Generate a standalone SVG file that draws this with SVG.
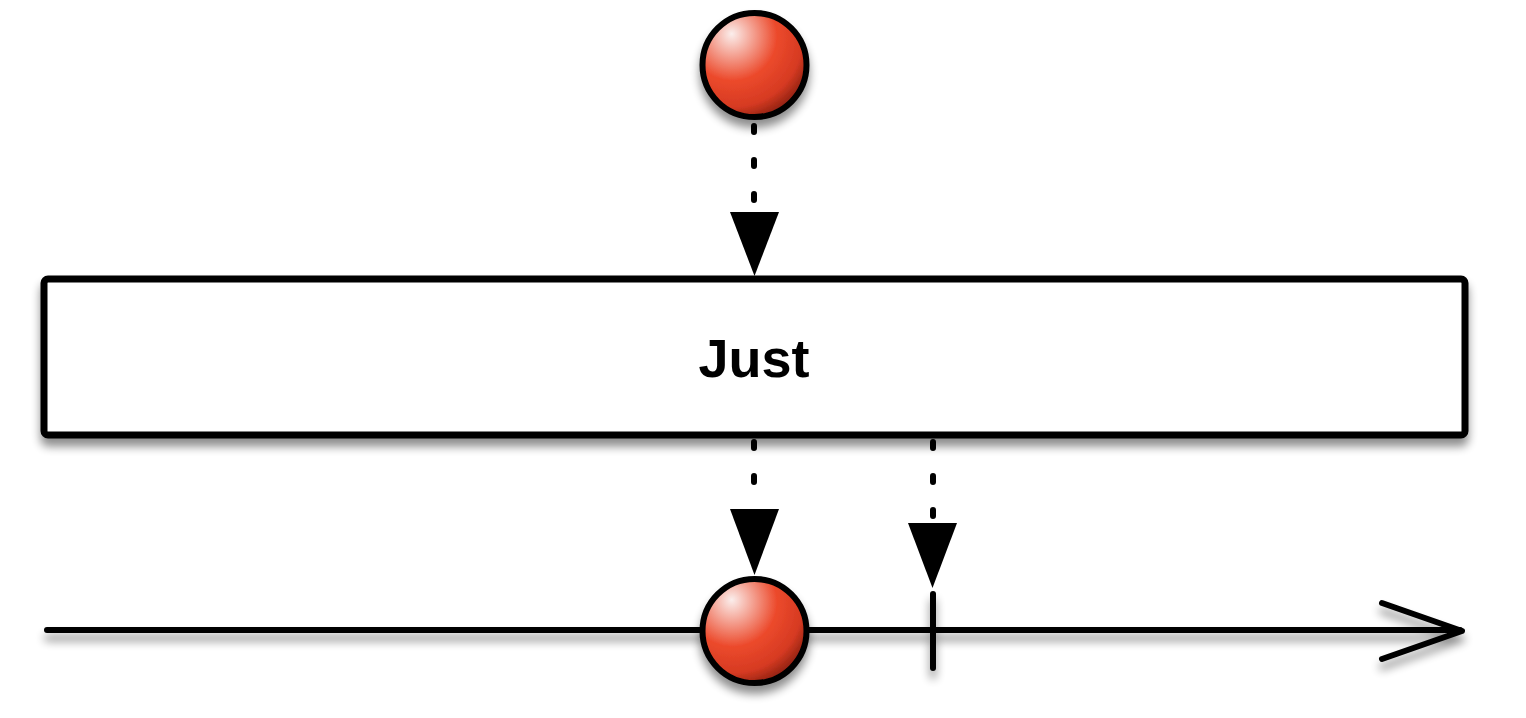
<svg xmlns="http://www.w3.org/2000/svg" width="1526" height="718" viewBox="0 0 1526 718">
<defs>
<style>
.ln{fill:none;stroke:#000;stroke-width:6;stroke-linecap:round;stroke-linejoin:round}
.dash{fill:none;stroke:#000;stroke-width:6;stroke-linecap:round;stroke-dasharray:6 28}
.ball{fill:url(#rg);stroke:#000;stroke-width:6}
.txt{font-family:"Liberation Sans",Arial,sans-serif;font-weight:bold;font-size:54px;fill:#000}
</style>
<radialGradient id="rg" cx="0.3" cy="0.25" r="0.85" fx="0.28" fy="0.2">
<stop offset="0" stop-color="#fbeeec"/>
<stop offset="0.5" stop-color="#ec4a2c"/>
<stop offset="0.78" stop-color="#d63a22"/>
<stop offset="1" stop-color="#7a1a0c"/>
</radialGradient>
<filter id="sh" x="-20%" y="-30%" width="140%" height="170%">
<feGaussianBlur in="SourceAlpha" stdDeviation="5"/>
<feOffset dx="0" dy="8" result="b"/>
<feComponentTransfer><feFuncA type="linear" slope="0.45"/></feComponentTransfer>
<feMerge><feMergeNode/><feMergeNode in="SourceGraphic"/></feMerge>
</filter>
</defs>
<rect width="1526" height="718" fill="#fff"/>
<g id="timeline" filter="url(#sh)">
<line class="ln" x1="47" y1="630" x2="1460" y2="630"/>
<polyline class="ln" points="1382,603 1462,631 1382,659"/>
<line class="ln" x1="933" y1="594" x2="933" y2="668"/>
</g>
<g id="connectors">
<line class="dash" x1="754" y1="126" x2="754" y2="212"/>
<polygon points="730,212 779,212 754.5,276" fill="#000"/>
<line class="dash" x1="754" y1="442" x2="754" y2="509"/>
<polygon points="730,509 779,509 754.5,575" fill="#000"/>
<line class="dash" x1="933" y1="442" x2="933" y2="523"/>
<polygon points="908,523 957,523 932.5,588" fill="#000"/>
</g>
<g id="input-ball" filter="url(#sh)">
<circle class="ball" cx="754.5" cy="65" r="52"/>
</g>
<g id="just-box">
<rect x="44" y="279" width="1421" height="156" rx="4" fill="#fff" stroke="#000" stroke-width="7" filter="url(#sh)"/>
<text class="txt" x="754" y="377" text-anchor="middle">Just</text>
</g>
<g id="output-ball" filter="url(#sh)">
<circle class="ball" cx="754.5" cy="631" r="52"/>
</g>
</svg>
